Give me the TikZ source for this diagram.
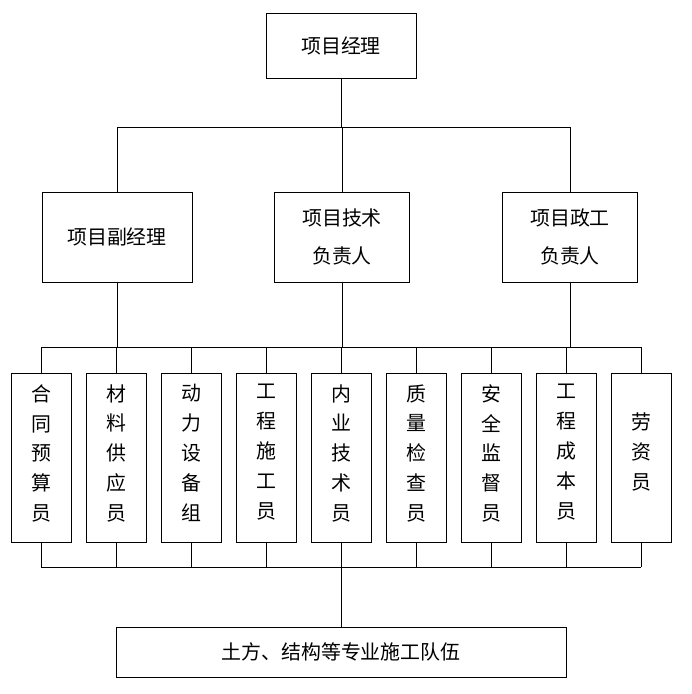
\documentclass[tikz,border=0pt]{standalone}
\usepackage{fontspec}
\newfontfamily\cjk{Noto Sans CJK SC}
\usetikzlibrary{positioning}
\tikzset{
  box/.style={draw, thick, inner sep=0pt, font=\cjk\fontsize{17}{33}\selectfont},
  staff/.style={box, minimum width=1.8cm, minimum height=5.07cm},
  stafftext/.style={align=center, font=\cjk\fontsize{17}{25.5}\selectfont, anchor=north},
}
\begin{document}
\begin{tikzpicture}[x=0.03cm, y=-0.03cm, thick]
   \useasboundingbox (0,0) rectangle (691,694);
   \node[box, minimum width=4.5cm, minimum height=1.95cm] (pm) at (341,46) {项目经理};
   \node[box, minimum width=4.5cm, minimum height=2.7cm] (vpm) at (117,237) {项目副经理};
   \node[box, minimum width=4.05cm, minimum height=2.7cm, align=center] (tech) at (342,237) {项目技术\\负责人};
   \node[box, minimum width=4.05cm, minimum height=2.7cm, align=center] (pol) at (570,237) {项目政工\\负责人};
   \node[box, minimum width=13.5cm, minimum height=1.5cm] (team) at (341,652) {土方、结构等专业施工队伍};
   \coordinate (top) at (341,127);
   \coordinate (mid) at (341,347);
   \coordinate (low) at (341,567);
   % staff
   \foreach \i/\t in {0/合\\同\\预\\算\\员, 1/材\\料\\供\\应\\员, 2/动\\力\\设\\备\\组,
                      3/工\\程\\施\\工\\员, 4/内\\业\\技\\术\\员, 5/质\\量\\检\\查\\员,
                      6/安\\全\\监\\督\\员, 7/工\\程\\成\\本\\员} {
     \node[staff] (s\i) at ({41+75*\i},458) {};
     \node[stafftext] at ({41+75*\i},380) {\t};
   }
   \node[staff] (s8) at (641,458) {};
   \node[stafftext, anchor=center] at (641,452) {劳\\资\\员};
   \draw (pm) -- (top);
   \draw (vpm.north |- top) -- (pol.north |- top);
   \foreach \n in {vpm,tech,pol} {
     \draw (\n.north |- top) -- (\n.north);
     \draw (\n.south) -- (\n.south |- mid);
   }
   \draw (s0.north |- mid) -- (s8.north |- mid);
   \draw (s0.south |- low) -- (s8.south |- low);
   \foreach \i in {0,...,8} {
     \draw (s\i.north |- mid) -- (s\i.north);
     \draw (s\i.south) -- (s\i.south |- low);
   }
   \draw (low) -- (team);
\end{tikzpicture}
\end{document}
